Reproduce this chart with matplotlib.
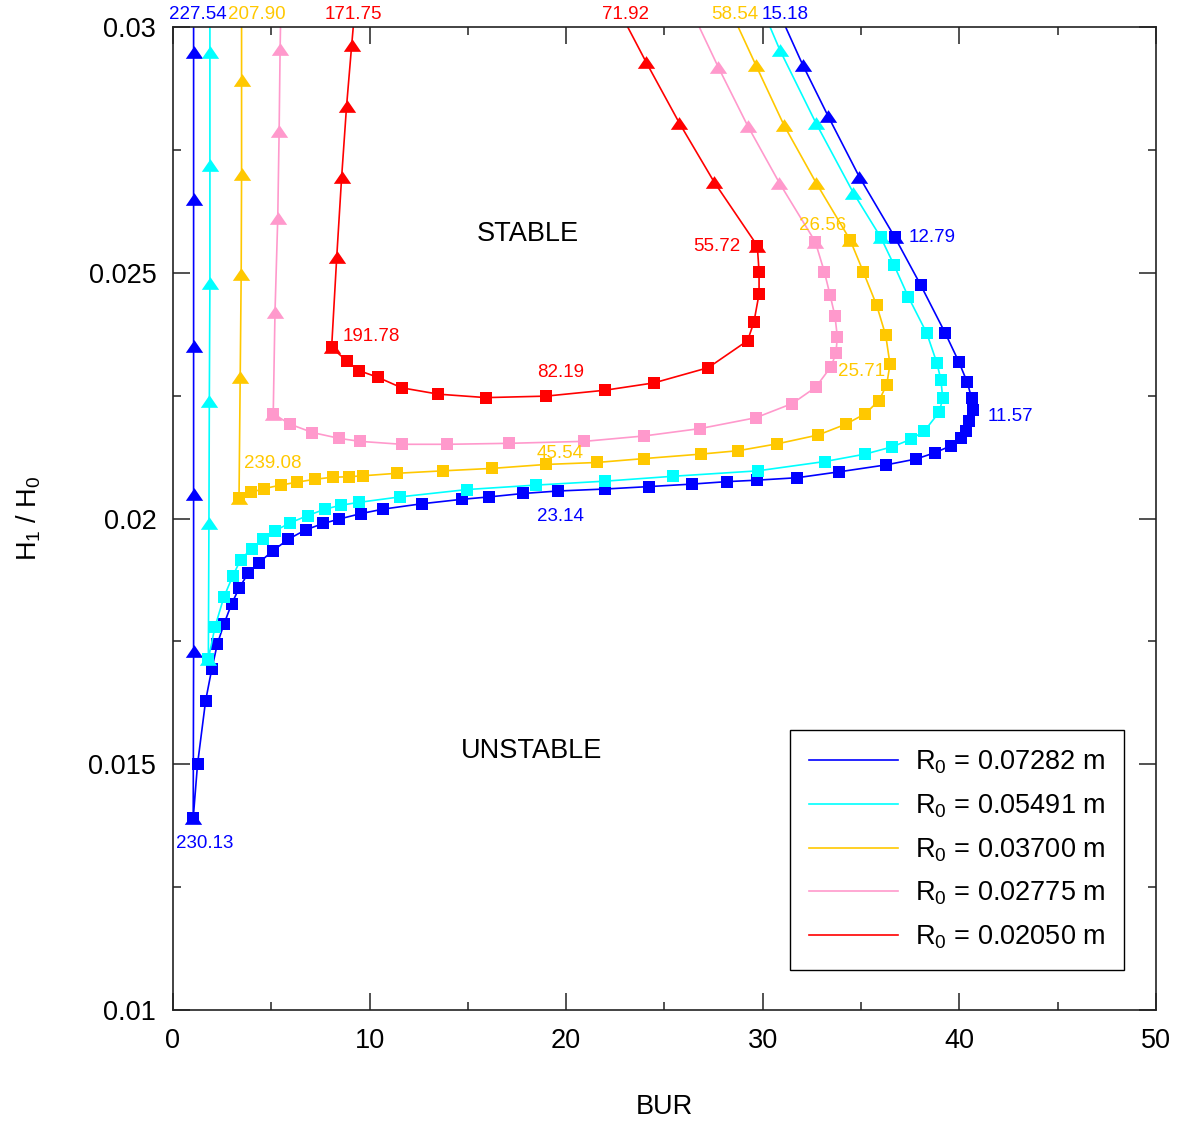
import matplotlib.pyplot as plt
from matplotlib.ticker import MultipleLocator, FormatStrFormatter

plt.rcParams["font.family"] = ["Liberation Sans", "DejaVu Sans"]
plt.rcParams["mathtext.default"] = "regular"

radii = ["0.07282", "0.05491", "0.03700", "0.02775", "0.02050"]
colors = ["#0000ff", "#00ffff", "#ffc800", "#ff99cc", "#ff0000"]

# R0 = 0.07282 m
blue_left_bur = [1.05, 1.05, 1.05, 1.05, 1.05, 1.05, 1.03]
blue_left_h = [0.0300, 0.0295, 0.0265, 0.0235, 0.0205, 0.0173, 0.0139]
blue_loop_bur = [1.03, 1.25, 1.66, 1.97, 2.26, 2.59, 2.98, 3.36, 3.83, 4.37, 5.07,
                 5.87, 6.75, 7.65, 8.46, 9.56, 10.67, 12.65, 14.68, 16.09, 17.82,
                 19.6, 21.97, 24.23, 26.38, 28.16, 29.69, 31.75, 33.88, 36.25,
                 37.79, 38.76, 39.57, 40.07, 40.34, 40.5, 40.67, 40.62, 40.4,
                 39.98, 39.27, 38.03, 36.72]
blue_loop_h = [0.0139, 0.0150, 0.01629, 0.01693, 0.01745, 0.01785, 0.01826,
               0.01858, 0.01889, 0.0191, 0.01934, 0.01958, 0.01977, 0.0199,
               0.01999, 0.0201, 0.02019, 0.0203, 0.02039, 0.02044, 0.02051,
               0.02056, 0.0206, 0.02065, 0.0207, 0.02075, 0.02078, 0.02083,
               0.02095, 0.02109, 0.02121, 0.02134, 0.02148, 0.02163, 0.02179,
               0.02198, 0.02221, 0.02245, 0.02277, 0.02318, 0.02378, 0.02475,
               0.02572]
blue_right_bur = [36.72, 34.91, 33.33, 32.03, 31.16]
blue_right_h = [0.02572, 0.02695, 0.02818, 0.02923, 0.0300]

# R0 = 0.05491 m
cyan_left_bur = [1.88, 1.88, 1.88, 1.88, 1.85, 1.83, 1.80]
cyan_left_h = [0.0300, 0.0295, 0.0272, 0.0248, 0.0224, 0.0199, 0.01714]
cyan_loop_bur = [1.80, 2.14, 2.59, 3.04, 3.44, 4.0, 4.56, 5.19, 5.95, 6.85,
                 7.73, 8.53, 9.48, 11.55, 14.97, 18.46, 21.97, 25.45, 29.74,
                 33.16, 35.2, 36.59, 37.52, 38.22, 38.98, 39.15, 39.06, 38.85,
                 38.34, 37.4, 36.67, 36.0]
cyan_loop_h = [0.01714, 0.0178, 0.0184, 0.01883, 0.01916, 0.01939, 0.01958,
               0.01975, 0.01991, 0.02006, 0.02019, 0.02027, 0.02033, 0.02044,
               0.02059, 0.02068, 0.02076, 0.02086, 0.02097, 0.02116, 0.02131,
               0.02146, 0.02161, 0.02178, 0.02217, 0.02245, 0.02282, 0.02317,
               0.02377, 0.02451, 0.02516, 0.02572]
cyan_right_bur = [36.0, 34.6, 32.71, 30.87, 30.37]
cyan_right_h = [0.02572, 0.02663, 0.02804, 0.02953, 0.0300]

# R0 = 0.03700 m
gold_left_bur = [3.49, 3.49, 3.49, 3.47, 3.42, 3.36]
gold_left_h = [0.0300, 0.02892, 0.02701, 0.02497, 0.02288, 0.02041]
gold_loop_bur = [3.36, 3.95, 4.65, 5.48, 6.32, 7.24, 8.12, 8.95, 9.68, 11.38,
                 13.72, 16.24, 18.97, 21.55, 23.97, 26.84, 28.75, 30.74, 32.82,
                 34.23, 35.2, 35.91, 36.3, 36.47, 36.25, 35.79, 35.11, 34.44]
gold_loop_h = [0.02041, 0.02053, 0.02061, 0.02068, 0.02074, 0.0208, 0.02084,
               0.02085, 0.02087, 0.02092, 0.02097, 0.02102, 0.0211, 0.02114,
               0.02122, 0.02131, 0.02138, 0.02152, 0.0217, 0.02192, 0.02213,
               0.0224, 0.02272, 0.02314, 0.02373, 0.02434, 0.02502, 0.02567]
gold_right_bur = [34.44, 32.71, 31.08, 29.64, 28.75]
gold_right_h = [0.02567, 0.02683, 0.0280, 0.02923, 0.0300]

# R0 = 0.02775 m
pink_left_bur = [5.47, 5.45, 5.40, 5.33, 5.19, 5.10]
pink_left_h = [0.0300, 0.02955, 0.02788, 0.02611, 0.0242, 0.02213]
pink_loop_bur = [5.10, 5.95, 7.09, 8.46, 9.51, 11.63, 13.95, 17.11, 20.92,
                 23.97, 26.81, 29.64, 31.5, 32.69, 33.47, 33.72, 33.79, 33.67,
                 33.42, 33.13, 32.67]
pink_loop_h = [0.02213, 0.02192, 0.02175, 0.02163, 0.02157, 0.02151, 0.02151,
               0.02153, 0.02157, 0.02168, 0.02183, 0.02205, 0.02234, 0.02267,
               0.02309, 0.02336, 0.0237, 0.02412, 0.02455, 0.02502, 0.02563]
pink_right_bur = [32.67, 30.84, 29.23, 27.74, 26.77]
pink_right_h = [0.02563, 0.02683, 0.02799, 0.02918, 0.0300]

# R0 = 0.02050 m
red_left_bur = [9.17, 9.09, 8.83, 8.58, 8.33, 8.07]
red_left_h = [0.0300, 0.02963, 0.02839, 0.02695, 0.02532, 0.02348]
red_loop_bur = [8.07, 8.83, 9.46, 10.44, 11.63, 13.5, 15.92, 18.97, 21.97,
                24.47, 27.23, 29.23, 29.55, 29.81, 29.81, 29.72]
red_loop_h = [0.02348, 0.02321, 0.02301, 0.02287, 0.02266, 0.02253, 0.02246,
              0.02249, 0.02261, 0.02276, 0.02307, 0.02362, 0.0240, 0.02457,
              0.02502, 0.02555]
red_right_bur = [29.72, 27.52, 25.75, 24.06, 23.13]
red_right_h = [0.02555, 0.02685, 0.02805, 0.02929, 0.0300]

series = [
    (blue_left_bur, blue_left_h, blue_loop_bur, blue_loop_h, blue_right_bur, blue_right_h),
    (cyan_left_bur, cyan_left_h, cyan_loop_bur, cyan_loop_h, cyan_right_bur, cyan_right_h),
    (gold_left_bur, gold_left_h, gold_loop_bur, gold_loop_h, gold_right_bur, gold_right_h),
    (pink_left_bur, pink_left_h, pink_loop_bur, pink_loop_h, pink_right_bur, pink_right_h),
    (red_left_bur, red_left_h, red_loop_bur, red_loop_h, red_right_bur, red_right_h),
]

# annotated values: (text, series index, branch, point index, offset in pixels)
point_labels = [
    ("227.54", 0, "left", 0, (4, 13)),
    ("230.13", 0, "left", -1, (11, -25)),
    ("23.14", 0, "loop", 21, (2, -26)),
    ("11.57", 0, "loop", 36, (38, -7)),
    ("12.79", 0, "right", 0, (37, 0)),
    ("15.18", 0, "right", -1, (0, 13)),
    ("207.90", 2, "left", 0, (15, 13)),
    ("239.08", 2, "left", -1, (34, 35)),
    ("45.54", 2, "loop", 12, (14, 11)),
    ("25.71", 2, "loop", 23, (-28, -7)),
    ("26.56", 2, "right", 0, (-27, 14)),
    ("58.54", 2, "right", -1, (-3, 13)),
    ("171.75", 4, "left", 0, (0, 13)),
    ("191.78", 4, "left", -1, (40, 11)),
    ("82.19", 4, "loop", 7, (15, 24)),
    ("55.72", 4, "right", 0, (-40, -1)),
    ("71.92", 4, "right", -1, (-2, 13)),
]

fig = plt.figure(figsize=(11.83, 11.21), dpi=100)
ax = fig.add_axes([0.1462, 0.099, 0.8310, 0.8769])

# wide, flat triangle marker
tri = [(-1, -0.73), (1, -0.73), (0, 0.73), (-1, -0.73)]

for (lb, lh, qb, qh, rb, rh), r0, c in zip(series, radii, colors):
    xs = lb + qb[1:] + rb[1:]
    ys = lh + qh[1:] + rh[1:]
    ax.plot(xs, ys, color=c, lw=1.2, label=f"R$_0$ = {r0} m")
    ax.plot(qb, qh, ls="none", marker="s", ms=8.8, mew=0, color=c)
    ax.plot(lb[1:] + rb[:-1], lh[1:] + rh[:-1], ls="none", marker=tri,
            ms=12.5, mew=0, color=c)

branches = {"left": (0, 1), "loop": (2, 3), "right": (4, 5)}
for text, si, br, idx, off in point_labels:
    ix, iy = branches[br]
    x = series[si][ix][idx]
    y = series[si][iy][idx]
    ax.annotate(text, xy=(x, y), xytext=off, textcoords="offset pixels",
                ha="center", va="center", color=colors[si], fontsize=13.5,
                annotation_clip=False)

ax.text(18.06, 0.02579, "STABLE", ha="center", va="center", fontsize=19.5)
ax.text(18.26, 0.01527, "UNSTABLE", ha="center", va="center", fontsize=19.5)

ax.set_xlim(0, 50)
ax.set_ylim(0.01, 0.03)
ax.xaxis.set_major_locator(MultipleLocator(10))
ax.xaxis.set_minor_locator(MultipleLocator(5))
ax.yaxis.set_major_locator(MultipleLocator(0.005))
ax.yaxis.set_minor_locator(MultipleLocator(0.0025))
ax.yaxis.set_major_formatter(FormatStrFormatter("%g"))
ax.tick_params(which="both", direction="in", top=True, right=True,
               color="#222222", width=1.1)
ax.tick_params(which="major", length=12, labelsize=19.5)
ax.tick_params(which="minor", length=6)
ax.tick_params(axis="x", which="major", pad=13)
ax.tick_params(axis="y", which="major", pad=12)
for sp in ax.spines.values():
    sp.set_color("#222222")
    sp.set_linewidth(1.2)

ax.set_xlabel("BUR", fontsize=19.5)
ax.set_ylabel("H$_1$ / H$_0$", fontsize=19.5)
ax.xaxis.set_label_coords(0.5, -0.0855)
ax.yaxis.set_label_coords(-0.132, 0.5)

leg = ax.legend(loc="lower right", bbox_to_anchor=(0.9674, 0.0407), fontsize=19.5,
                handlelength=3.3, handletextpad=0.6, labelspacing=0.6,
                borderpad=0.7, borderaxespad=0, fancybox=False, framealpha=1,
                edgecolor="black")
leg.get_frame().set_linewidth(1.0)

fig.savefig("out.png", dpi=100)
